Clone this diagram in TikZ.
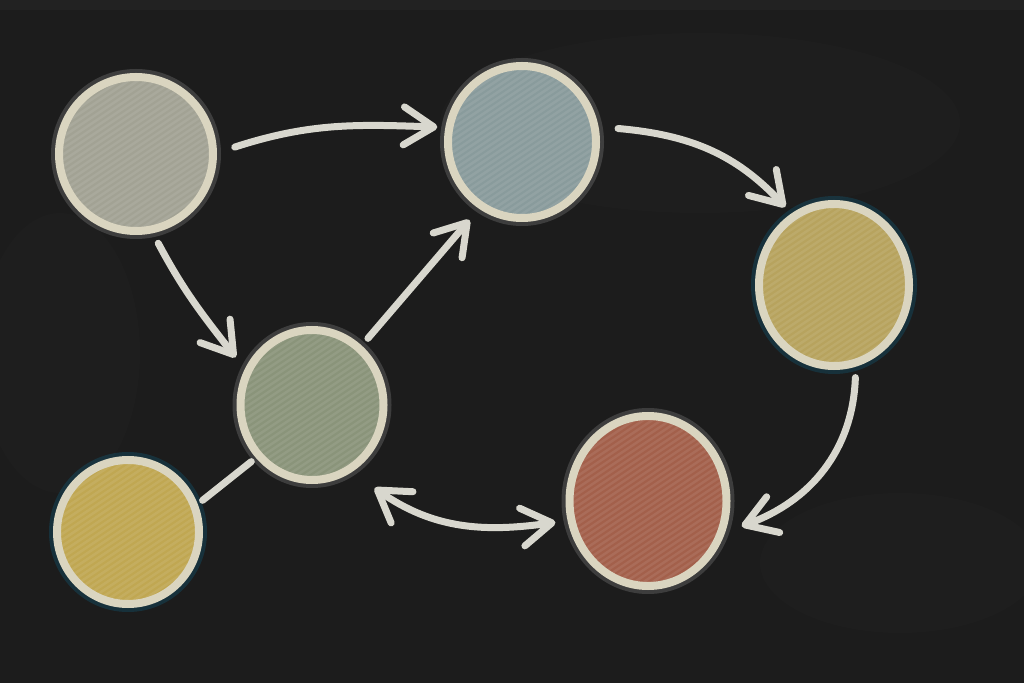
\documentclass[tikz,border=0pt]{standalone}
\usetikzlibrary{arrows.meta,shapes.geometric,calc}
\definecolor{board}{HTML}{1C1C1C}
\definecolor{boardlight}{HTML}{262626}
\definecolor{chalk}{HTML}{D8D7CE}
\definecolor{ring}{HTML}{DAD5C0}
\definecolor{fillA}{HTML}{A2A294}
\definecolor{fillB}{HTML}{899B9C}
\definecolor{fillC}{HTML}{B7A35E}
\definecolor{fillD}{HTML}{8A947A}
\definecolor{fillE}{HTML}{C0A752}
\definecolor{fillF}{HTML}{A3604B}
\tikzset{
  disc/.style={ellipse, draw=ring, line width=8pt, inner sep=0pt,
    preaction={draw=#1, line width=16pt, opacity=0.15},
    path picture={
      \foreach \k in {-20,...,20}
        \draw[white, opacity=0.08, line width=2.5pt]
          ([shift={(\k*9pt-150pt,-100pt)}]path picture bounding box.center) -- ++(300pt,200pt);
    }},
  arr/.style={draw=chalk, line width=7pt, line cap=round, line join=round,
    -{Straight Barb[length=30pt,width=38pt,line cap=round,line join=round]}},
  darr/.style={draw=chalk, line width=7pt, line cap=round, line join=round,
    {Straight Barb[length=30pt,width=38pt,line cap=round,line join=round]}-{Straight Barb[length=30pt,width=38pt,line cap=round,line join=round]}},
  link/.style={draw=chalk, line width=7pt, line cap=round}
}
\begin{document}
\begin{tikzpicture}[x=1pt,y=1pt]
  \useasboundingbox (0,0) rectangle (1024,683);
  \fill[board] (0,0) rectangle (1024,683);
  \fill[boardlight, opacity=0.6] (0,673) rectangle (1024,683);
  \fill[boardlight, opacity=0.25] (700,560) ellipse [x radius=260, y radius=90];
  \fill[boardlight, opacity=0.2] (60,330) ellipse [x radius=80, y radius=140];
  \fill[boardlight, opacity=0.2] (900,120) ellipse [x radius=140, y radius=70];

  \node[disc=white, fill=fillA, minimum width=154pt, minimum height=154pt] (A) at (136,529) {};
  \node[disc=white, fill=fillB, minimum width=148pt, minimum height=152pt] (B) at (522,541) {};
  \node[disc=cyan, fill=fillC, minimum width=150pt, minimum height=162pt] (C) at (834,398) {};
  \node[disc=white, fill=fillD, minimum width=143pt, minimum height=150pt] (D) at (312,278) {};
  \node[disc=cyan, fill=fillE, minimum width=142pt, minimum height=144pt] (E) at (128,151) {};
  \node[disc=white, fill=fillF, minimum width=157pt, minimum height=170pt] (F) at (648,182) {};

  % A -> B
  \draw[arr] ($(A)+(4:99)$) to[out=18,in=178] ($(B)+(170:86)$);
  % B -> C
  \draw[arr] ($(B)+(8:97)$) to[out=-5,in=133] ($(C)+(122:92)$);
  % A -> D
  \draw[arr] ($(A)+(-76:92)$) to[out=-62,in=128] ($(D)+(148:90)$);
  % D -> B
  \draw[arr] ($(D)+(50:87)$) -- ($(B)+(236:94)$);
  % C -> F
  \draw[arr] ($(C)+(-77:95)$) to[out=-92,in=20] ($(F)+(-15:97)$);
  % D <-> F
  \draw[darr] ($(D)+(-53:104)$) to[out=-35,in=188] ($(F)+(193:95)$);
  % E -- D
  \draw[link] ($(E)+(23:81)$) -- ($(D)+(223:83)$);
\end{tikzpicture}
\end{document}
